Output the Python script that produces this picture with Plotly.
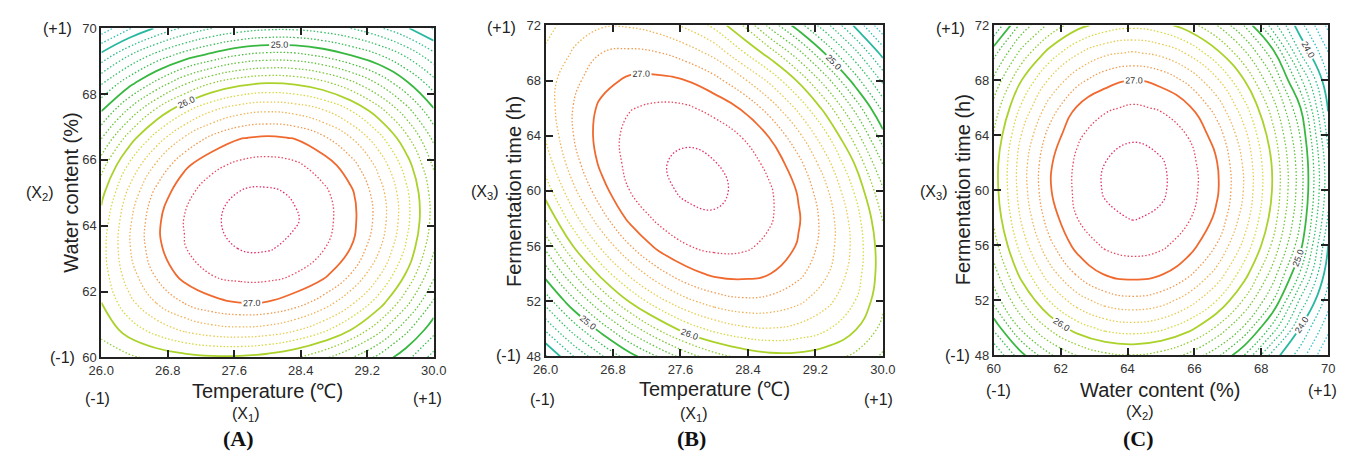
import plotly.graph_objects as go

# ---------------- data ----------------
temperature = [26.0, 26.333, 26.667, 27.0, 27.333, 27.667, 28.0, 28.333, 28.667, 29.0, 29.333, 29.667, 30.0]
water = [60.0, 60.833, 61.667, 62.5, 63.333, 64.167, 65.0, 65.833, 66.667, 67.5, 68.333, 69.167, 70.0]
ferm_time = [48, 50, 52, 54, 56, 58, 60, 62, 64, 66, 68, 70, 72]

# Panel A: response vs temperature (columns) and water content (rows, bottom to top)
z_A = [
    [25.72, 25.76, 25.86, 25.93, 25.97, 25.97, 25.92, 25.82, 25.65, 25.42, 25.15, 24.87, 24.52],
    [25.84, 26.09, 26.28, 26.43, 26.52, 26.55, 26.52, 26.42, 26.25, 26.00, 25.67, 25.25, 24.87],
    [26.00, 26.34, 26.61, 26.81, 26.94, 27.00, 26.99, 26.89, 26.71, 26.45, 26.11, 25.67, 25.16],
    [26.09, 26.50, 26.83, 27.07, 27.20, 27.26, 27.26, 27.19, 27.05, 26.79, 26.43, 25.98, 25.44],
    [26.12, 26.58, 26.95, 27.19, 27.34, 27.41, 27.42, 27.35, 27.22, 27.00, 26.64, 26.18, 25.63],
    [26.07, 26.56, 26.96, 27.21, 27.37, 27.46, 27.48, 27.42, 27.28, 27.07, 26.73, 26.27, 25.72],
    [25.94, 26.45, 26.86, 27.14, 27.31, 27.41, 27.43, 27.38, 27.25, 27.04, 26.70, 26.25, 25.70],
    [25.72, 26.23, 26.64, 26.96, 27.15, 27.25, 27.28, 27.24, 27.11, 26.89, 26.55, 26.11, 25.58],
    [25.39, 25.89, 26.30, 26.62, 26.85, 26.99, 27.03, 26.99, 26.84, 26.61, 26.28, 25.86, 25.35],
    [24.99, 25.44, 25.85, 26.16, 26.39, 26.53, 26.58, 26.54, 26.42, 26.20, 25.89, 25.49, 25.03],
    [24.58, 24.93, 25.26, 25.57, 25.80, 25.94, 26.00, 25.97, 25.86, 25.66, 25.38, 25.04, 24.69],
    [24.07, 24.40, 24.68, 24.90, 25.07, 25.22, 25.28, 25.27, 25.17, 25.01, 24.83, 24.58, 24.27],
    [23.47, 23.78, 24.03, 24.24, 24.40, 24.50, 24.56, 24.56, 24.50, 24.40, 24.24, 24.03, 23.78],
]

# Panel B: response vs temperature (columns) and fermentation time (rows, bottom to top)
z_B = [
    [23.78, 24.20, 24.58, 24.92, 25.21, 25.50, 25.72, 25.86, 25.94, 25.94, 25.88, 25.76, 25.57],
    [24.24, 24.69, 25.09, 25.48, 25.82, 26.09, 26.26, 26.36, 26.39, 26.34, 26.22, 26.02, 25.74],
    [24.68, 25.15, 25.61, 26.02, 26.33, 26.55, 26.69, 26.76, 26.74, 26.64, 26.46, 26.20, 25.85],
    [25.08, 25.60, 26.08, 26.45, 26.73, 26.93, 27.04, 27.06, 27.00, 26.85, 26.62, 26.30, 25.89],
    [25.46, 26.01, 26.45, 26.79, 27.05, 27.19, 27.25, 27.24, 27.15, 26.98, 26.70, 26.34, 25.87],
    [25.81, 26.33, 26.73, 27.05, 27.24, 27.35, 27.38, 27.34, 27.22, 27.02, 26.71, 26.30, 25.79],
    [26.09, 26.56, 26.93, 27.20, 27.35, 27.43, 27.44, 27.36, 27.22, 26.98, 26.63, 26.18, 25.63],
    [26.29, 26.72, 27.05, 27.26, 27.38, 27.44, 27.41, 27.31, 27.14, 26.86, 26.47, 25.99, 25.39],
    [26.42, 26.80, 27.09, 27.26, 27.35, 27.37, 27.31, 27.19, 26.98, 26.65, 26.23, 25.71, 25.08],
    [26.49, 26.81, 27.05, 27.19, 27.24, 27.23, 27.14, 26.98, 26.71, 26.35, 25.91, 25.35, 24.74],
    [26.50, 26.75, 26.93, 27.04, 27.05, 27.00, 26.87, 26.65, 26.35, 25.97, 25.48, 24.91, 24.36],
    [26.44, 26.62, 26.80, 26.84, 26.81, 26.71, 26.54, 26.23, 25.90, 25.47, 24.96, 24.47, 23.92],
    [26.32, 26.52, 26.58, 26.58, 26.51, 26.36, 26.15, 25.81, 25.33, 24.89, 24.46, 23.97, 23.44],
]

# Panel C: response vs water content (columns) and fermentation time (rows, bottom to top)
z_C = [
    [24.40, 24.94, 25.37, 25.61, 25.75, 25.79, 25.72, 25.55, 25.26, 24.79, 24.11, 23.70, 23.20],
    [24.85, 25.45, 25.83, 26.10, 26.26, 26.31, 26.25, 26.07, 25.77, 25.36, 24.73, 23.99, 23.46],
    [25.27, 25.80, 26.21, 26.51, 26.69, 26.75, 26.69, 26.50, 26.20, 25.77, 25.22, 24.36, 23.69],
    [25.52, 26.08, 26.52, 26.84, 27.03, 27.08, 27.03, 26.85, 26.54, 26.09, 25.53, 24.78, 23.87],
    [25.71, 26.29, 26.75, 27.07, 27.23, 27.28, 27.24, 27.09, 26.79, 26.34, 25.77, 25.07, 24.00],
    [25.84, 26.43, 26.90, 27.20, 27.36, 27.41, 27.37, 27.22, 26.96, 26.50, 25.92, 25.22, 24.18],
    [25.90, 26.50, 26.98, 27.25, 27.42, 27.48, 27.43, 27.28, 27.03, 26.58, 25.99, 25.29, 24.27],
    [25.90, 26.50, 26.97, 27.24, 27.40, 27.46, 27.42, 27.27, 27.01, 26.56, 25.98, 25.28, 24.26],
    [25.82, 26.41, 26.87, 27.17, 27.32, 27.38, 27.33, 27.19, 26.91, 26.46, 25.88, 25.19, 24.14],
    [25.68, 26.24, 26.69, 27.02, 27.17, 27.23, 27.18, 27.03, 26.72, 26.27, 25.71, 25.01, 23.98],
    [25.45, 26.00, 26.43, 26.74, 26.93, 27.00, 26.94, 26.75, 26.44, 26.00, 25.44, 24.66, 23.82],
    [25.13, 25.67, 26.08, 26.38, 26.56, 26.62, 26.55, 26.37, 26.06, 25.64, 25.09, 24.20, 23.61],
    [24.59, 25.27, 25.65, 25.93, 26.09, 26.15, 26.08, 25.90, 25.61, 25.19, 24.51, 23.87, 23.35],
]

temp_ticks = [26.0, 26.8, 27.6, 28.4, 29.2, 30.0]
water_ticks = [60, 62, 64, 66, 68, 70]
time_ticks = [48, 52, 56, 60, 64, 68, 72]

# ---------------- styling ----------------
W, H = 1350, 468
FONT = 'Liberation Sans, Arial, sans-serif'
SERIF = 'Liberation Serif, Times New Roman, serif'

ANCHORS = [(22.6, '#5a90e8'), (23.4, '#40c8e0'), (24.0, '#28b8a0'), (24.5, '#38c070'), (25.0, '#38b840'),
           (25.6, '#78c83a'), (26.0, '#aad22a'), (26.2, '#d8d840'), (26.4, '#e8cc50'), (26.6, '#f0b458'),
           (26.8, '#f09a50'), (27.0, '#f06a30'), (27.2, '#e84860'), (27.4, '#e03070'), (28.0, '#d82868')]

def hex2rgb(h):
    return tuple(int(h[i:i+2], 16) for i in (1, 3, 5))

def level_color(v):
    if v <= ANCHORS[0][0]:
        return ANCHORS[0][1]
    for (v0, c0), (v1, c1) in zip(ANCHORS[:-1], ANCHORS[1:]):
        if v0 <= v <= v1:
            t = (v - v0) / (v1 - v0)
            a, b = hex2rgb(c0), hex2rgb(c1)
            return 'rgb(%d,%d,%d)' % tuple(round(a[i] + (b[i] - a[i]) * t) for i in range(3))
    return ANCHORS[-1][1]

def scale_for(start, end, size):
    nlev = int(round((end - start) / size)) + 1
    levels = [start + i * size for i in range(nlev)]
    return [[(L - start) / (end - start), level_color(L)] for L in levels]

fig = go.Figure()

def add_panel(x, y, z, k):
    xa = 'x' if k == 1 else f'x{k}'
    ya = 'y' if k == 1 else f'y{k}'
    base = dict(x=x, y=y, z=z, xaxis=xa, yaxis=ya, showscale=False, hoverinfo='skip', autocontour=False)
    for off in [0.2, 0.4, 0.6, 0.8]:
        s, e = 21 + off, 27 + off
        fig.add_trace(go.Contour(**base, colorscale=scale_for(s, e, 1),
                                 contours=dict(coloring='lines', start=s, end=e, size=1),
                                 line=dict(width=1.3, dash='1.5px,2px', smoothing=1.3)))
    fig.add_trace(go.Contour(**base, colorscale=scale_for(21, 23, 1),
                             contours=dict(coloring='lines', start=21, end=23, size=1),
                             line=dict(width=1.8, smoothing=1.3)))
    fig.add_trace(go.Contour(**base, colorscale=scale_for(24, 27, 1),
                             contours=dict(coloring='lines', start=24, end=27, size=1, showlabels=True,
                                           labelformat='.1f',
                                           labelfont=dict(size=9, color='#333', family=FONT)),
                             line=dict(width=1.8, smoothing=1.3)))

add_panel(temperature, water, z_A, 1)
add_panel(temperature, ferm_time, z_B, 2)
add_panel(water, ferm_time, z_C, 3)

ax = dict(showgrid=False, zeroline=False, showline=True, linecolor='#222', linewidth=2, mirror='ticks',
          ticks='inside', ticklen=7, tickwidth=1.5, tickcolor='#222',
          tickfont=dict(family=FONT, size=13, color='#333'))

def dom(a, b, horiz):
    return [a / W, b / W] if horiz else [1 - b / H, 1 - a / H]

fig.update_layout(
    width=W, height=H, margin=dict(l=0, r=0, t=0, b=0), paper_bgcolor='white', plot_bgcolor='white',
    showlegend=False,
    xaxis=dict(ax, domain=dom(90, 429, True), range=[26, 30], tickvals=temp_ticks, tickformat='.1f', anchor='y'),
    yaxis=dict(ax, domain=dom(22, 362, False), range=[60, 70], tickvals=water_ticks, anchor='x'),
    xaxis2=dict(ax, domain=dom(543, 887, True), range=[26, 30], tickvals=temp_ticks, tickformat='.1f', anchor='y2'),
    yaxis2=dict(ax, domain=dom(19, 361, False), range=[48, 72], tickvals=time_ticks, anchor='x2'),
    xaxis3=dict(ax, domain=dom(1000, 1341, True), range=[60, 70], tickvals=water_ticks, anchor='y3'),
    yaxis3=dict(ax, domain=dom(19, 360, False), range=[48, 72], tickvals=time_ticks, anchor='x3'),
)

def ann(text, x, y, size=16, angle=0, family=FONT, color='#222'):
    fig.add_annotation(text=text, x=x / W, y=1 - y / H, xref='paper', yref='paper', showarrow=False,
                       xanchor='center', yanchor='middle', textangle=angle,
                       font=dict(family=family, size=size, color=color))

# Panel A texts
ann('(+1)', 45, 22); ann('(-1)', 50, 362); ann('(X<sub>2</sub>)', 28, 193)
ann('Water content (%)', 59, 192, 20, -90)
ann('Temperature (℃)', 260, 397, 20)
ann('(-1)', 86, 404); ann('(+1)', 423, 404); ann('(X<sub>1</sub>)', 238, 421)
ann('<b>(A)</b>', 230, 446, 22, family=SERIF, color='#111')
# Panel B texts
ann('(+1)', 498, 21); ann('(-1)', 505, 360); ann('(X<sub>3</sub>)', 481, 192)
ann('Fermentation time (h)', 511, 191, 20, -90)
ann('Temperature (℃)', 715, 395, 20)
ann('(-1)', 540, 405); ann('(+1)', 882, 405); ann('(X<sub>1</sub>)', 694, 421)
ann('<b>(B)</b>', 692, 446, 22, family=SERIF, color='#111')
# Panel C texts
ann('(+1)', 956, 22); ann('(-1)', 963, 360); ann('(X<sub>3</sub>)', 939, 192)
ann('Fermentation time (h)', 969, 189, 20, -90)
ann('Water content (%)', 1170, 396, 20)
ann('(-1)', 1005, 396); ann('(+1)', 1335, 396); ann('(X<sub>2</sub>)', 1149, 419)
ann('<b>(C)</b>', 1148, 446, 22, family=SERIF, color='#111')

fig.write_html('out.html')
